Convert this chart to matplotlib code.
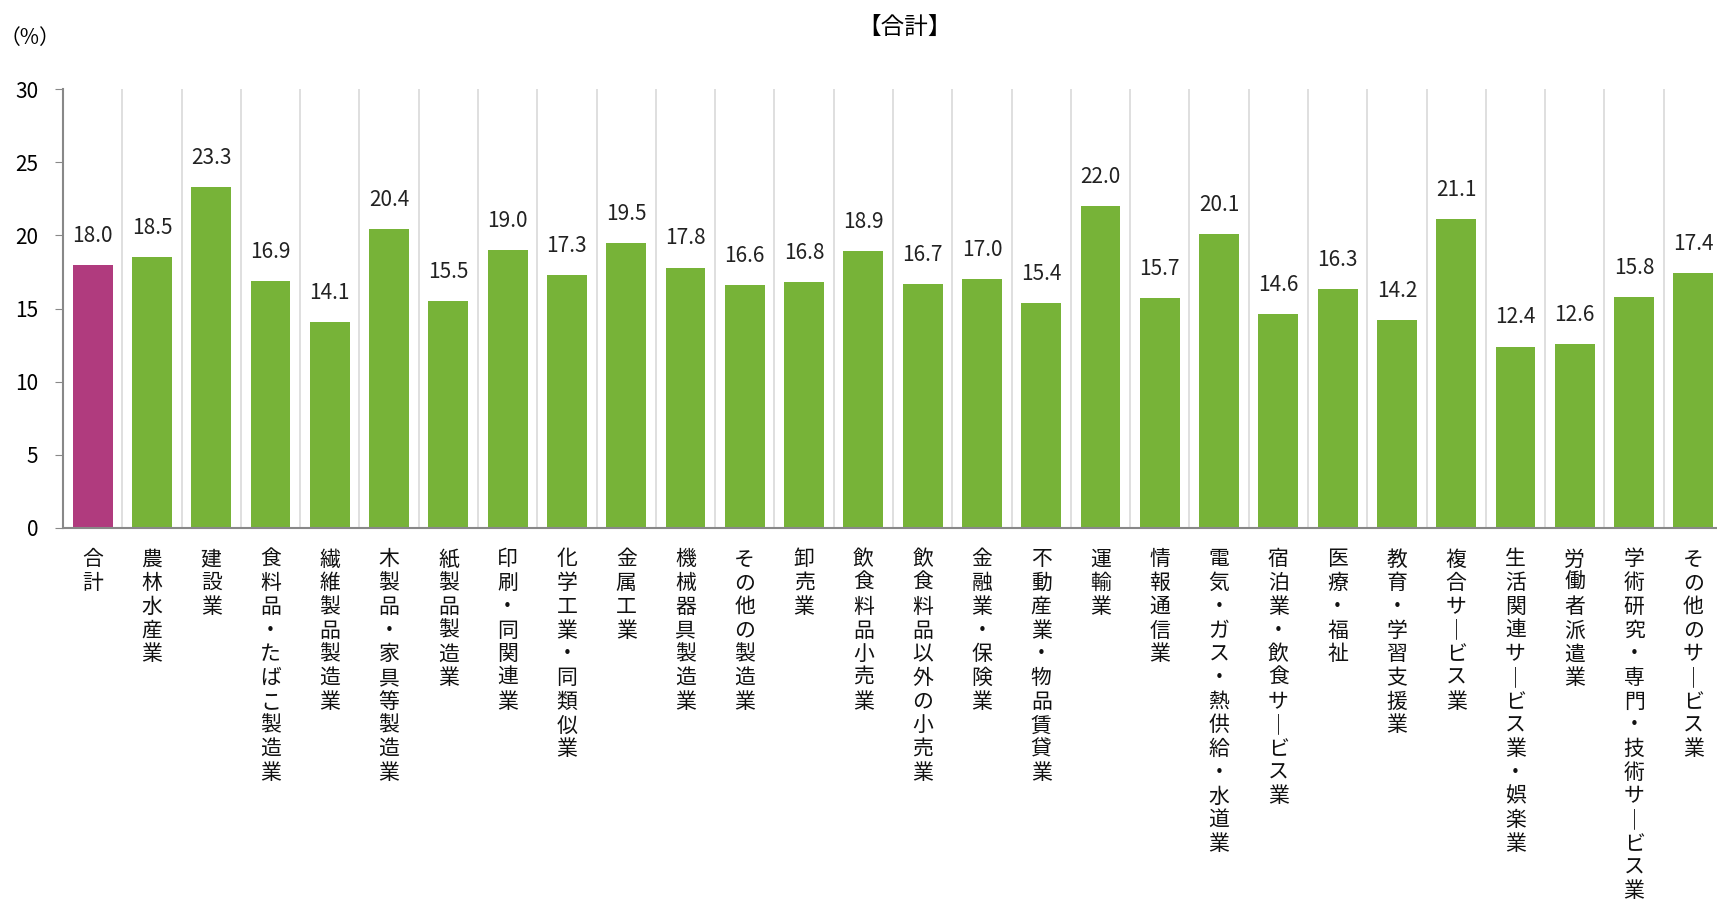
import matplotlib
matplotlib.use("Agg")
import matplotlib.pyplot as plt
import numpy as np

plt.rcParams["font.family"] = ["Noto Sans CJK JP", "DejaVu Sans"]

categories = [
    "合計", "農林水産業", "建設業", "食料品・たばこ製造業", "繊維製品製造業",
    "木製品・家具等製造業", "紙製品製造業", "印刷・同関連業", "化学工業・同類似業",
    "金属工業", "機械器具製造業", "その他の製造業", "卸売業", "飲食料品小売業",
    "飲食料品以外の小売業", "金融業・保険業", "不動産業・物品賃貸業", "運輸業",
    "情報通信業", "電気・ガス・熱供給・水道業", "宿泊業・飲食サービス業", "医療・福祉",
    "教育・学習支援業", "複合サービス業", "生活関連サービス業・娯楽業", "労働者派遣業",
    "学術研究・専門・技術サービス業", "その他のサービス業",
]
values = [
    18.0, 18.5, 23.3, 16.9, 14.1, 20.4, 15.5, 19.0, 17.3, 19.5, 17.8, 16.6, 16.8, 18.9,
    16.7, 17.0, 15.4, 22.0, 15.7, 20.1, 14.6, 16.3, 14.2, 21.1, 12.4, 12.6, 15.8, 17.4,
]
yticks = [0, 5, 10, 15, 20, 25, 30]

purple = "#B03B7E"
green = "#77B338"


def vertical(label):
    # stack characters top to bottom, long vowel mark drawn upright
    return "\n".join(label.replace("ー", "｜"))


W, H = 1717, 906
fig = plt.figure(figsize=(W / 100, H / 100), dpi=100)
ax = fig.add_axes([63 / W, (H - 528) / H, 1660 / W, (528 - 89) / H])

x = np.arange(len(categories))
colors = [purple] + [green] * (len(categories) - 1)
ax.bar(x, values, width=0.67, color=colors, zorder=2)

for xi, v in zip(x, values):
    ax.annotate(f"{v:.1f}", (xi, v), xytext=(0, 13), textcoords="offset points",
                ha="center", va="bottom", fontsize=15, color="#222222")

# vertical separators between categories
for b in np.arange(0.5, len(categories) - 0.5, 1):
    ax.axvline(b, color="#D9D9D9", lw=1.2, zorder=1)

ax.set_xlim(-0.5, len(categories) - 0.5)
ax.set_ylim(0, 30)
ax.set_yticks(yticks)
ax.tick_params(axis="y", labelsize=15, length=6, color="#888888", pad=12)
ax.tick_params(axis="x", length=0)
ax.set_xticks([])
for s in ["top", "right"]:
    ax.spines[s].set_visible(False)
for s in ["left", "bottom"]:
    ax.spines[s].set_color("#888888")
    ax.spines[s].set_linewidth(1.5)

for xi, c in zip(x, categories):
    ax.text(xi, -1.4, vertical(c), ha="center", va="top", fontsize=15,
            linespacing=1.1, color="#111111")

fig.text(905 / W, 1 - 27 / H, "【合計】", ha="center", va="center", fontsize=17)
fig.text(30 / W, 1 - 38 / H, "（%）", ha="center", va="center", fontsize=15)

fig.savefig("out.png", dpi=100)
